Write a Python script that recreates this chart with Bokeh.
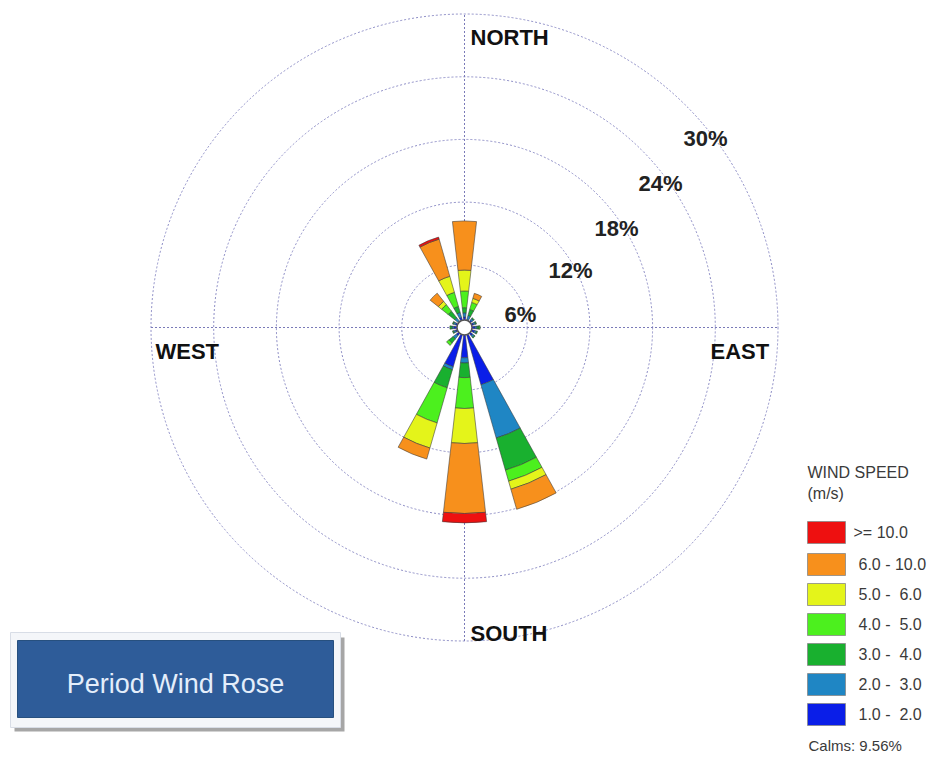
import numpy as np
from bokeh.plotting import figure
from bokeh.models import Range1d, ColumnDataSource
from bokeh.core.properties import value
from bokeh.embed import file_html
from bokeh.resources import INLINE

# ---------------- data ----------------
directions = ["N", "NNE", "NE", "ENE", "E", "ESE", "SE", "SSE",
              "S", "SSW", "SW", "WSW", "W", "WNW", "NW", "NNW"]
# frequency (%) per direction for each wind-speed class
speed_1_2  = [1.0, 0.8, 0.9, 0.9, 1.0, 1.0, 1.0, 5.7, 2.9, 3.9, 1.0, 0.9, 1.0, 0.9, 0.8, 1.0]
speed_2_3  = [0.4, 0.4, 0.2, 0.2, 0.2, 0.2, 0.2, 5.3, 0.5, 0.3, 0.4, 0.2, 0.2, 0.2, 0.4, 0.5]
speed_3_4  = [0.5, 0.6, 0.1, 0.1, 0.2, 0.1, 0.1, 3.2, 1.4, 1.8, 0.5, 0.1, 0.2, 0.1, 0.8, 0.6]
speed_4_5  = [1.6, 0.7, 0.0, 0.0, 0.1, 0.0, 0.0, 1.1, 2.95, 3.5, 0.3, 0.0, 0.0, 0.0, 0.8, 1.4]
speed_5_6  = [2.0, 0.4, 0.0, 0.0, 0.0, 0.0, 0.0, 0.8, 3.35, 2.5, 0.0, 0.0, 0.0, 0.0, 0.4, 1.6]
speed_6_10 = [4.7, 0.5, 0.0, 0.0, 0.0, 0.0, 0.0, 2.0, 6.7, 1.1, 0.0, 0.0, 0.0, 0.0, 1.0, 3.7]
speed_10   = [0.0, 0.0, 0.0, 0.0, 0.0, 0.0, 0.0, 0.0, 0.9, 0.0, 0.0, 0.0, 0.0, 0.0, 0.0, 0.2]

series = [speed_1_2, speed_2_3, speed_3_4, speed_4_5, speed_5_6, speed_6_10, speed_10]
series_colors = ["#0a1ee8", "#1f86c4", "#19b02f", "#4cf01e", "#e4f41a", "#f7901c", "#ee1010"]
legend_labels = [">= 10.0", "6.0 - 10.0", "5.0 -  6.0", "4.0 -  5.0", "3.0 -  4.0", "2.0 -  3.0", "1.0 -  2.0"]
legend_colors = series_colors[::-1]
ring_values = [6, 12, 18, 24, 30]
ring_labels = ["6%", "12%", "18%", "24%", "30%"]
calms = 9.56
title_text = "Period Wind Rose"

# ---------------- layout helpers ----------------
W, H = 943, 758
CX, CY = 464, 327      # pixel position of rose centre
K = 10.45              # pixels per 1 %

def X(px):
    return (px - CX) / K

def Y(py):
    return (CY - py) / K

p = figure(width=W, height=H, x_range=Range1d(X(0), X(W)), y_range=Range1d(Y(H), Y(0)),
           output_backend="svg", toolbar_location=None, min_border=0,
           x_axis_type=None, y_axis_type=None)
p.grid.visible = False
p.outline_line_color = None
p.background_fill_color = "white"
p.border_fill_color = "white"

# ---------------- grid ----------------
grid_col = "#8e8ec6"
p.circle(x=[0] * len(ring_values), y=[0] * len(ring_values), radius=ring_values,
         fill_color=None, line_color=grid_col, line_dash="2 2", line_width=1)
rmax = max(ring_values)
p.segment(x0=[-rmax, 0], y0=[0, -rmax], x1=[rmax, 0], y1=[0, rmax],
          line_color="#7a7ab8", line_dash="2 2", line_width=1)

# ---------------- bars ----------------
half = np.radians(6.5)
xs, ys, inner, outer, st, en, cols = [], [], [], [], [], [], []
for i, d in enumerate(directions):
    ang = np.radians(90 - i * 22.5)
    base = 0.0
    for s, c in zip(series, series_colors):
        v = s[i]
        if v <= 0:
            continue
        xs.append(0); ys.append(0)
        inner.append(base); outer.append(base + v)
        st.append(ang - half); en.append(ang + half)
        cols.append(c)
        base += v
src = ColumnDataSource(dict(x=xs, y=ys, inner=inner, outer=outer, start=st, end=en, color=cols))
p.annular_wedge(x="x", y="y", inner_radius="inner", outer_radius="outer",
                start_angle="start", end_angle="end", fill_color="color",
                line_color="#3a3a3a", line_width=0.7, line_alpha=0.8, source=src)

# calm circle
p.circle(x=[0], y=[0], radius=0.72, fill_color="white", line_color="#555555", line_width=1.5)

# ---------------- labels ----------------
lab_font = value("Liberation Sans")
p.text(x=[X(470), X(470), X(155), X(710)], y=[Y(37), Y(633), Y(351), Y(351)],
       text=["NORTH", "SOUTH", "WEST", "EAST"],
       text_font=lab_font, text_font_style="bold", text_font_size="22px",
       text_align="left", text_baseline="middle", text_color="#111111")

ring_lab_px = [(520, 314), (570, 270), (616, 228), (660, 183), (705, 138)]
p.text(x=[X(a) for a, b in ring_lab_px], y=[Y(b) for a, b in ring_lab_px], text=ring_labels,
       text_font=lab_font, text_font_style="bold", text_font_size="22px",
       text_align="center", text_baseline="middle", text_color="#222222")

# ---------------- legend ----------------
leg_font = value("Liberation Sans")
p.text(x=[X(807), X(807)], y=[Y(472), Y(493)], text=["WIND SPEED", "(m/s)"],
       text_font=leg_font, text_font_size="16px", text_align="left",
       text_baseline="middle", text_color="#3a3a3a")
row_y = [532, 564, 594, 624, 654, 684, 714]
p.rect(x=[X(826)] * 7, y=[Y(v) for v in row_y], width=38 / K, height=22 / K,
       fill_color=legend_colors, line_color="#888888", line_width=0.8)
p.text(x=[X(853)] + [X(858)] * 6, y=[Y(v) for v in row_y],
       text=[t.replace("  ", " \u00a0") for t in legend_labels],
       text_font=leg_font, text_font_size="16px", text_align="left",
       text_baseline="middle", text_color="#3a3a3a")
p.text(x=[X(808)], y=[Y(745)], text=["Calms: %.2f%%" % calms],
       text_font=leg_font, text_font_size="15px", text_align="left",
       text_baseline="middle", text_color="#3a3a3a")

# ---------------- title box ----------------
p.quad(left=[X(14)], right=[X(344)], top=[Y(637)], bottom=[Y(731)],
       fill_color="#a6a6a6", line_color=None)
p.quad(left=[X(10)], right=[X(340)], top=[Y(632)], bottom=[Y(727)],
       fill_color="#f4f6f9", line_color="#d8dde6", line_width=1)
p.quad(left=[X(17)], right=[X(333)], top=[Y(640)], bottom=[Y(717)],
       fill_color="#2e5c99", line_color="#27507f", line_width=1)
p.text(x=[X(175)], y=[Y(683)], text=[title_text],
       text_font=value("Liberation Sans"), text_font_size="27px",
       text_align="center", text_baseline="middle", text_color="#e4eefb")

open("out.html", "w").write(file_html(p, INLINE))
